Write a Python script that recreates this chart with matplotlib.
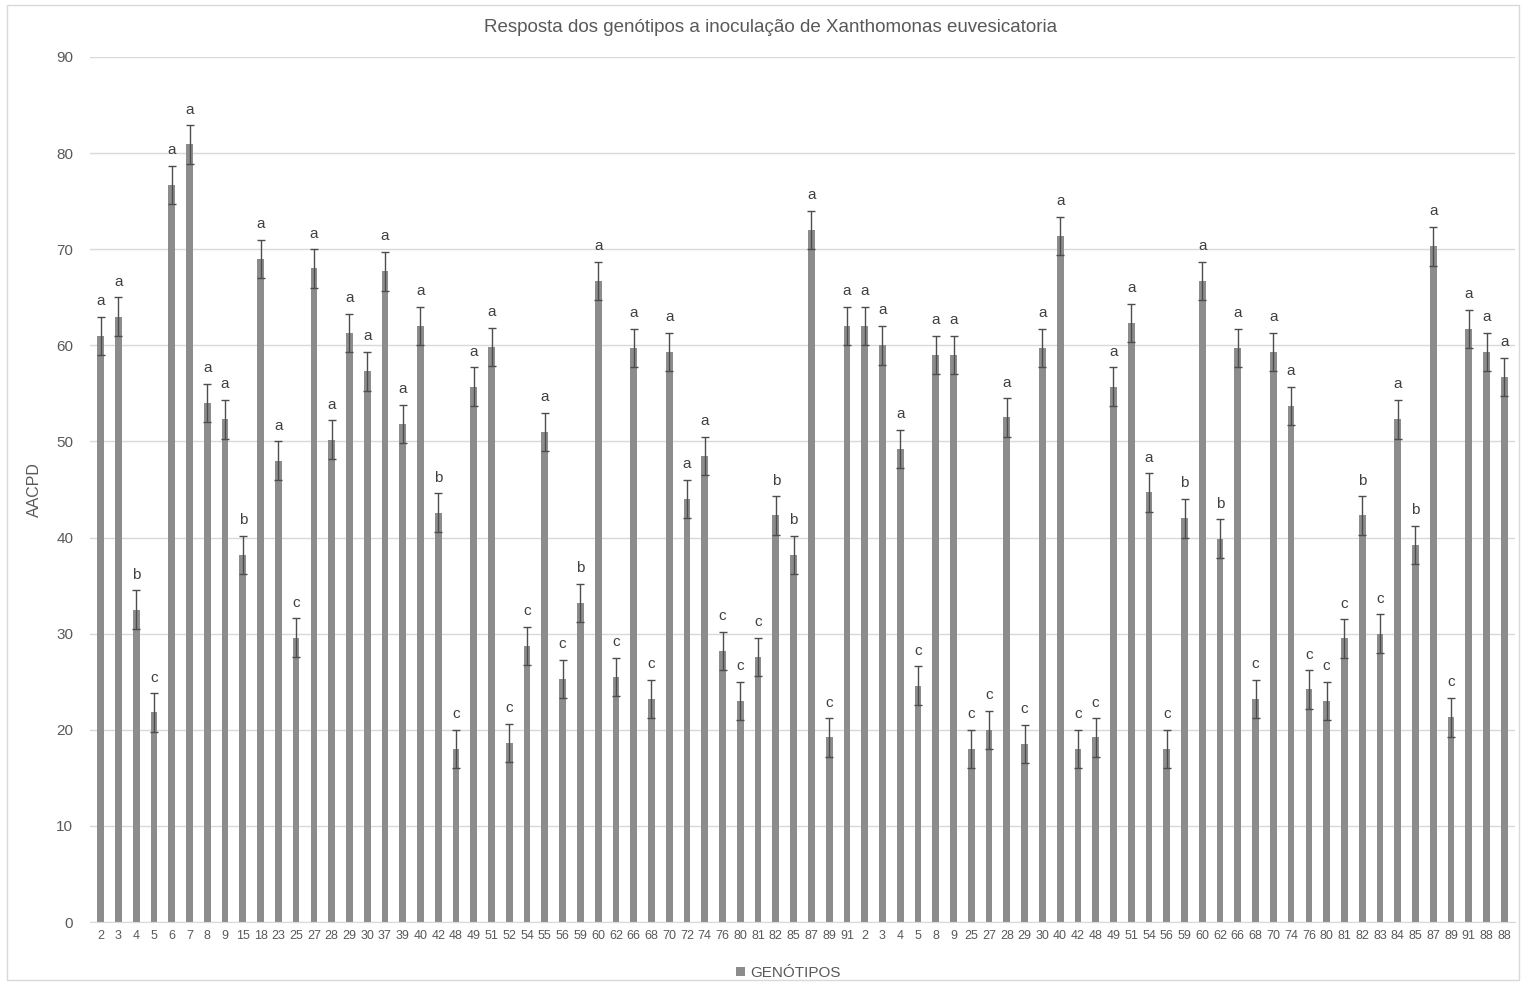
import matplotlib
matplotlib.use("Agg")
import matplotlib.pyplot as plt
from matplotlib.patches import Rectangle

genotypes = ["2", "3", "4", "5", "6", "7", "8", "9", "15", "18", "23", "25", "27", "28", "29", "30",
             "37", "39", "40", "42", "48", "49", "51", "52", "54", "55", "56", "59", "60", "62", "66",
             "68", "70", "72", "74", "76", "80", "81", "82", "85", "87", "89", "91",
             "2", "3", "4", "5", "8", "9", "25", "27", "28", "29", "30", "40", "42", "48", "49", "51",
             "54", "56", "59", "60", "62", "66", "68", "70", "74", "76", "80", "81", "82", "83", "84",
             "85", "87", "89", "91", "88", "88"]

aacpd = [61.0, 63.0, 32.5, 21.8, 76.7, 80.9, 54.0, 52.3, 38.2, 69.0, 48.0, 29.6, 68.0, 50.2, 61.3, 57.3,
         67.7, 51.8, 62.0, 42.6, 18.0, 55.7, 59.8, 18.6, 28.7, 51.0, 25.3, 33.2, 66.7, 25.5, 59.7,
         23.2, 59.3, 44.0, 48.5, 28.2, 23.0, 27.6, 42.3, 38.2, 72.0, 19.2, 62.0,
         62.0, 60.0, 49.2, 24.6, 59.0, 59.0, 18.0, 20.0, 52.5, 18.5, 59.7, 71.4, 18.0, 19.2, 55.7, 62.3,
         44.7, 18.0, 42.0, 66.7, 39.9, 59.7, 23.2, 59.3, 53.7, 24.2, 23.0, 29.5, 42.3, 30.0, 52.3,
         39.2, 70.3, 21.3, 61.7, 59.3, 56.7]

errors = [2.0] * len(aacpd)

letters = ["a", "a", "b", "c", "a", "a", "a", "a", "b", "a", "a", "c", "a", "a", "a", "a",
           "a", "a", "a", "b", "c", "a", "a", "c", "c", "a", "c", "b", "a", "c", "a",
           "c", "a", "a", "a", "c", "c", "c", "b", "b", "a", "c", "a",
           "a", "a", "a", "c", "a", "a", "c", "c", "a", "c", "a", "a", "c", "c", "a", "a",
           "a", "c", "b", "a", "b", "a", "c", "a", "a", "c", "c", "c", "b", "c", "a",
           "b", "a", "c", "a", "a", "a"]

yticks = [0, 10, 20, 30, 40, 50, 60, 70, 80, 90]

TXT = "#595959"
BAR = "#8c8c8c"
GRID = "#d9d9d9"

plt.rcParams['font.family'] = ['Liberation Sans', 'DejaVu Sans']

fig = plt.figure(figsize=(15.26, 9.85), dpi=100)
fig.patches.append(Rectangle((7/1526, 5/985), 1 - 14/1526, 1 - 10/985, transform=fig.transFigure,
                             fill=False, edgecolor=GRID, linewidth=1))
ax = fig.add_axes([90/1526, 1 - 922/985, 1425/1526, 865/985])

x = list(range(len(aacpd)))
ax.bar(x, aacpd, width=0.38, color=BAR, zorder=2, label="GENÓTIPOS")
ax.errorbar(x, aacpd, yerr=errors, fmt="none", ecolor="#4d4d4d", elinewidth=1.0,
            capsize=3, capthick=1.0, zorder=3)
for xi, v, e, l in zip(x, aacpd, errors, letters):
    ax.text(xi, v + e + 0.9, l, ha="center", va="bottom", fontsize=11, color="#404040")

ax.set_xlim(-0.6, len(aacpd) - 0.4)
ax.set_ylim(0, 90)
ax.set_yticks(yticks)
ax.set_xticks(x)
ax.set_xticklabels(genotypes, fontsize=9, color=TXT)
ax.tick_params(axis="y", labelsize=11, labelcolor=TXT, length=0, pad=12)
ax.tick_params(axis="x", length=0, pad=6)
ax.grid(axis="y", color=GRID, linewidth=1, zorder=0)
ax.set_axisbelow(True)
for s in ["top", "right", "left"]:
    ax.spines[s].set_visible(False)
ax.spines["bottom"].set_color(GRID)
ax.set_ylabel("AACPD", fontsize=11.5, color=TXT, labelpad=10)

fig.text(0.505, 1 - 28/985, "Resposta dos genótipos a inoculação de Xanthomonas euvesicatoria",
         ha="center", va="center", fontsize=13.5, color=TXT)

leg = ax.legend(loc="upper center", bbox_to_anchor=(0.49, -0.035), frameon=False, fontsize=11,
                handlelength=0.6, handleheight=0.6, handletextpad=0.3)
for t in leg.get_texts():
    t.set_color(TXT)

fig.savefig("out.png", dpi=100)
